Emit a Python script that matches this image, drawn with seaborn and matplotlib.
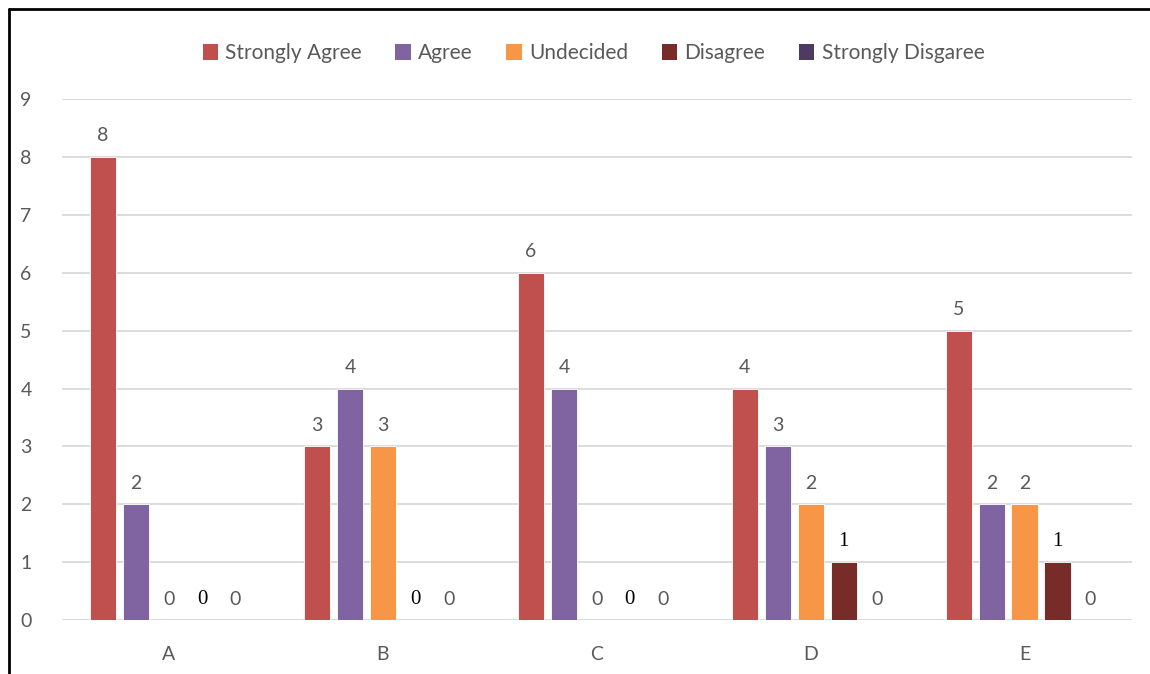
import matplotlib
matplotlib.use("Agg")
import matplotlib.pyplot as plt
from matplotlib.lines import Line2D
from matplotlib.patches import Patch
import seaborn as sns
import pandas as pd

categories = ["A", "B", "C", "D", "E"]
responses = ["Strongly Agree", "Agree", "Undecided", "Disagree", "Strongly Disgaree"]
strongly_agree = [8, 3, 6, 4, 5]
agree = [2, 4, 4, 3, 2]
undecided = [0, 3, 0, 2, 2]
disagree = [0, 0, 0, 1, 1]
strongly_disagree = [0, 0, 0, 0, 0]
y_ticks = [0, 1, 2, 3, 4, 5, 6, 7, 8, 9]

colors = ["#C0504D", "#8064A2", "#F79646", "#772C2A", "#4F3B62"]
text_color = "#595959"

series = [strongly_agree, agree, undecided, disagree, strongly_disagree]
rows = []
for resp, vals in zip(responses, series):
    for cat, v in zip(categories, vals):
        rows.append({"category": cat, "response": resp, "count": v})
df = pd.DataFrame(rows)

sns.set_theme(style="white")
plt.rcParams["font.family"] = ["Lato", "DejaVu Sans"]

fig = plt.figure(figsize=(11.5, 6.74), dpi=100)
ax = fig.add_axes([0.054, 0.08, 0.93, 0.773])

sns.barplot(data=df, x="category", y="count", hue="response",
            hue_order=responses, order=categories, palette=colors,
            width=0.77, gap=0.2, saturation=1, edgecolor="white",
            linewidth=0.6, legend=False, ax=ax)

ax.set_ylim(0, 9)
ax.set_yticks(y_ticks)
ax.set_xlim(-0.5, len(categories) - 0.5)
ax.yaxis.grid(True, color="#D9D9D9", linewidth=1.3)
ax.set_axisbelow(True)
for side in ["top", "right", "left", "bottom"]:
    ax.spines[side].set_visible(False)
ax.tick_params(axis="both", length=0, labelsize=14, labelcolor=text_color)
ax.tick_params(axis="x", pad=19)
ax.tick_params(axis="y", pad=22)
ax.set_xlabel("")
ax.set_ylabel("")

# Value labels above each bar; the Disagree series uses a serif face
for container, resp in zip(ax.containers, responses):
    serif = resp == "Disagree"
    ax.bar_label(container, labels=[f"{int(b.get_height())}" for b in container],
                 padding=8 if serif else 9, fontsize=15 if serif else 14,
                 color="black" if serif else text_color,
                 family=["Liberation Serif"] if serif else ["Lato", "DejaVu Sans"])

handles = [Patch(facecolor=c, edgecolor="none") for c in colors]
fig.legend(handles, responses, loc="center", bbox_to_anchor=(0.516, 0.921),
           ncol=5, frameon=False, fontsize=15, labelcolor=text_color,
           handlelength=0.75, handleheight=0.75, handletextpad=0.35,
           columnspacing=1.6)

# Outer frame: left and top edges
fig.add_artist(Line2D([0.0078, 0.0078], [0.0, 0.986], color="black", linewidth=2))
fig.add_artist(Line2D([0.0078, 1.0], [0.986, 0.986], color="black", linewidth=2))

fig.savefig("out.png", dpi=100)
